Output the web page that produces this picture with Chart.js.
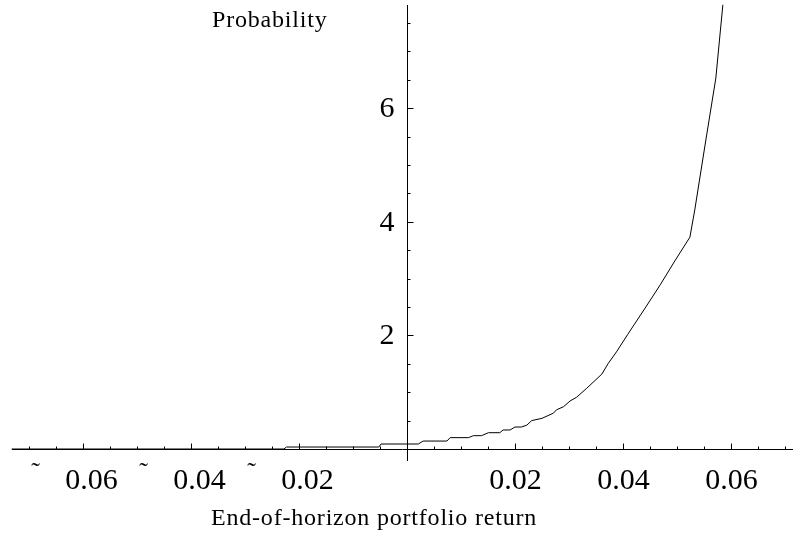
<!DOCTYPE html>
<html><head><meta charset="utf-8">
<script src="https://cdn.jsdelivr.net/npm/chart.js@4/dist/chart.umd.min.js"></script>
<style>html,body{margin:0;padding:0;background:#fff}canvas{display:block}</style>
</head><body>
<canvas id="c" width="793" height="535"></canvas>
<script>
// Data
const returns = [-0.0733, -0.0229, -0.0224, -0.0053, -0.0049, 0.0020, 0.0029, 0.0073, 0.0079, 0.0113, 0.0122, 0.0137, 0.0150, 0.0171, 0.0177, 0.0190, 0.0199, 0.0211, 0.0221, 0.0230, 0.0249, 0.0270, 0.0276, 0.0289, 0.0301, 0.0313, 0.0332, 0.0360, 0.0372, 0.0387, 0.0408, 0.0440, 0.0468, 0.0495, 0.0523, 0.0532, 0.0551, 0.0571, 0.0584];
const probability = [0.000, 0.000, 0.035, 0.035, 0.088, 0.088, 0.140, 0.140, 0.200, 0.200, 0.235, 0.235, 0.287, 0.287, 0.335, 0.335, 0.387, 0.387, 0.420, 0.500, 0.540, 0.630, 0.690, 0.745, 0.845, 0.910, 1.070, 1.320, 1.510, 1.710, 2.020, 2.480, 2.890, 3.310, 3.730, 4.210, 5.350, 6.530, 7.820];

const xTickValues = [-0.06, -0.04, -0.02, 0.02, 0.04, 0.06];
const xTickLabels = ["\u02DC 0.06", "\u02DC 0.04", "\u02DC 0.02", "0.02", "0.04", "0.06"];
const yTickValues = [2, 4, 6];
const yTickLabels = ["2", "4", "6"];
const xAxisTitle = "End-of-horizon portfolio return";
const yAxisTitle = "Probability";

const xView = [-0.07546, 0.07139];
const yView = [-1.514, 7.905];
const xAxisStart = -0.0733;
const yAxisEnds = [-0.21, 7.82];
const xMinorStep = 0.005, yMinorStep = 0.5;

const FONT = '"Liberation Serif", "Times New Roman", Times, serif';
const points = returns.map((r, i) => ({x: r, y: probability[i]}));

const axesPlugin = {
  id: 'mmaAxes',
  afterDatasetsDraw(chart) {
    const ctx = chart.ctx, xs = chart.scales.x, ys = chart.scales.y;
    const X = v => xs.getPixelForValue(v), Y = v => ys.getPixelForValue(v);
    const x0 = Math.round(X(0)) + 0.5, y0 = Math.round(Y(0)) + 0.5;
    ctx.save();
    ctx.strokeStyle = '#000';
    ctx.lineWidth = 1;
    ctx.beginPath();
    ctx.moveTo(Math.round(X(xAxisStart)), y0);
    ctx.lineTo(chart.width, y0);
    ctx.moveTo(x0, Math.round(Y(yAxisEnds[1])));
    ctx.lineTo(x0, Math.round(Y(yAxisEnds[0])));
    for (let i = Math.ceil(xAxisStart / xMinorStep); i * xMinorStep <= xs.max; i++) {
      if (i === 0) continue;
      const px = Math.round(X(i * xMinorStep)) + 0.5;
      const len = (i % 4 === 0) ? 6 : 3;
      ctx.moveTo(px, y0);
      ctx.lineTo(px, y0 - len);
    }
    for (let i = 1; i * yMinorStep <= yAxisEnds[1]; i++) {
      const py = Math.round(Y(i * yMinorStep)) + 0.5;
      const len = (i % 4 === 0) ? 6 : 3;
      ctx.moveTo(x0, py);
      ctx.lineTo(x0 + len, py);
    }
    ctx.stroke();

    ctx.fillStyle = '#000';
    ctx.textBaseline = 'alphabetic';
    xTickValues.forEach((v, i) => {
      const lab = xTickLabels[i];
      const px = X(v);
      ctx.textAlign = 'center';
      if (lab.indexOf(' ') >= 0) {
        const parts = lab.split(' ');
        ctx.font = '30px ' + FONT;
        ctx.fillText(parts[1], px + 8, 489);
        ctx.font = '26px ' + FONT;
        ctx.fillText(parts[0], px - 48, 480);
      } else {
        ctx.font = '30px ' + FONT;
        ctx.fillText(lab, px, 489);
      }
    });
    ctx.font = '30px ' + FONT;
    ctx.textAlign = 'right';
    ctx.textBaseline = 'middle';
    yTickValues.forEach((v, i) => {
      ctx.fillText(yTickLabels[i], x0 - 13, Y(v) + 1);
    });

    ctx.textAlign = 'left';
    ctx.textBaseline = 'alphabetic';
    ctx.font = '24px ' + FONT;
    try { ctx.letterSpacing = '0.8px'; } catch (e) {}
    ctx.fillText(yAxisTitle, 212, 27);
    ctx.fillText(xAxisTitle, 211, 525);
    try { ctx.letterSpacing = '0px'; } catch (e) {}
    ctx.restore();
  }
};

new Chart(document.getElementById('c'), {
  type: 'scatter',
  data: {
    datasets: [{
      data: points,
      showLine: true,
      borderColor: '#000',
      borderWidth: 1,
      pointRadius: 0,
      tension: 0,
      fill: false
    }]
  },
  options: {
    responsive: false,
    devicePixelRatio: 1,
    animation: false,
    layout: {padding: 0},
    plugins: {legend: {display: false}, tooltip: {enabled: false}, title: {display: false}},
    scales: {
      x: {type: 'linear', display: false, min: xView[0], max: xView[1]},
      y: {type: 'linear', display: false, min: yView[0], max: yView[1]}
    }
  },
  plugins: [axesPlugin]
});
</script>
</body></html>
